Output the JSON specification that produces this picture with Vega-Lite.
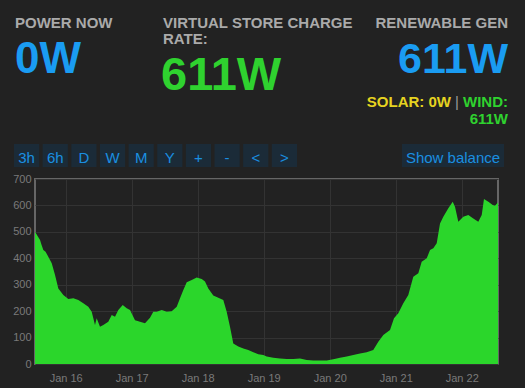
{
  "$schema": "https://vega.github.io/schema/vega-lite/v6.json",
  "autosize": {"type": "none"},
  "width": 463,
  "height": 185,
  "padding": {"left": 35, "top": 179, "right": 27, "bottom": 24},
  "background": "#222222",
  "config": {
    "font": "Liberation Sans",
    "view": {"stroke": "#666666", "strokeWidth": 2},
    "axis": {"labelColor": "#7a7a7a", "labelFontSize": 11, "labelFont": "Liberation Sans", "ticks": false, "domain": false, "gridColor": "#333333", "gridWidth": 1}
  },
  "datasets": {
    "series": [
      {"t": "2024-01-15T12:50:00Z", "v": 500},
      {"t": "2024-01-15T14:40:00Z", "v": 469},
      {"t": "2024-01-15T15:10:00Z", "v": 452},
      {"t": "2024-01-15T15:52:00Z", "v": 431},
      {"t": "2024-01-15T16:40:00Z", "v": 425},
      {"t": "2024-01-15T17:40:00Z", "v": 406},
      {"t": "2024-01-15T18:55:00Z", "v": 381},
      {"t": "2024-01-15T20:07:00Z", "v": 337},
      {"t": "2024-01-15T21:19:00Z", "v": 286},
      {"t": "2024-01-15T23:08:00Z", "v": 261},
      {"t": "2024-01-16T00:57:00Z", "v": 246},
      {"t": "2024-01-16T02:46:00Z", "v": 249},
      {"t": "2024-01-16T04:35:00Z", "v": 242},
      {"t": "2024-01-16T06:24:00Z", "v": 230},
      {"t": "2024-01-16T08:13:00Z", "v": 217},
      {"t": "2024-01-16T09:27:00Z", "v": 198},
      {"t": "2024-01-16T10:39:00Z", "v": 148},
      {"t": "2024-01-16T11:16:00Z", "v": 173},
      {"t": "2024-01-16T12:28:00Z", "v": 141},
      {"t": "2024-01-16T13:40:00Z", "v": 148},
      {"t": "2024-01-16T15:29:00Z", "v": 160},
      {"t": "2024-01-16T16:44:00Z", "v": 185},
      {"t": "2024-01-16T17:56:00Z", "v": 179},
      {"t": "2024-01-16T19:08:00Z", "v": 204},
      {"t": "2024-01-16T20:44:00Z", "v": 223},
      {"t": "2024-01-16T22:11:00Z", "v": 211},
      {"t": "2024-01-16T23:23:00Z", "v": 204},
      {"t": "2024-01-17T01:12:00Z", "v": 166},
      {"t": "2024-01-17T03:01:00Z", "v": 160},
      {"t": "2024-01-17T04:50:00Z", "v": 154},
      {"t": "2024-01-17T06:39:00Z", "v": 175},
      {"t": "2024-01-17T07:51:00Z", "v": 198},
      {"t": "2024-01-17T09:05:00Z", "v": 198},
      {"t": "2024-01-17T10:55:00Z", "v": 204},
      {"t": "2024-01-17T12:43:00Z", "v": 198},
      {"t": "2024-01-17T14:32:00Z", "v": 200},
      {"t": "2024-01-17T16:22:00Z", "v": 217},
      {"t": "2024-01-17T17:34:00Z", "v": 249},
      {"t": "2024-01-17T18:46:00Z", "v": 280},
      {"t": "2024-01-17T20:00:00Z", "v": 309},
      {"t": "2024-01-17T21:49:00Z", "v": 318},
      {"t": "2024-01-17T23:38:00Z", "v": 327},
      {"t": "2024-01-18T01:27:00Z", "v": 322},
      {"t": "2024-01-18T02:39:00Z", "v": 312},
      {"t": "2024-01-18T03:51:00Z", "v": 286},
      {"t": "2024-01-18T05:40:00Z", "v": 259},
      {"t": "2024-01-18T07:29:00Z", "v": 251},
      {"t": "2024-01-18T09:18:00Z", "v": 242},
      {"t": "2024-01-18T10:32:00Z", "v": 198},
      {"t": "2024-01-18T11:44:00Z", "v": 141},
      {"t": "2024-01-18T12:56:00Z", "v": 78},
      {"t": "2024-01-18T14:46:00Z", "v": 66},
      {"t": "2024-01-18T16:35:00Z", "v": 59},
      {"t": "2024-01-18T18:23:00Z", "v": 53},
      {"t": "2024-01-18T20:13:00Z", "v": 44},
      {"t": "2024-01-18T22:02:00Z", "v": 37},
      {"t": "2024-01-18T23:51:00Z", "v": 34},
      {"t": "2024-01-19T01:05:00Z", "v": 28},
      {"t": "2024-01-19T03:29:00Z", "v": 24},
      {"t": "2024-01-19T05:55:00Z", "v": 21},
      {"t": "2024-01-19T08:22:00Z", "v": 19},
      {"t": "2024-01-19T10:46:00Z", "v": 19},
      {"t": "2024-01-19T13:11:00Z", "v": 21},
      {"t": "2024-01-19T15:38:00Z", "v": 15},
      {"t": "2024-01-19T18:02:00Z", "v": 13},
      {"t": "2024-01-19T20:28:00Z", "v": 13},
      {"t": "2024-01-19T22:54:00Z", "v": 13},
      {"t": "2024-01-20T01:18:00Z", "v": 18},
      {"t": "2024-01-20T03:44:00Z", "v": 24},
      {"t": "2024-01-20T06:10:00Z", "v": 28},
      {"t": "2024-01-20T08:34:00Z", "v": 34},
      {"t": "2024-01-20T11:01:00Z", "v": 40},
      {"t": "2024-01-20T13:26:00Z", "v": 44},
      {"t": "2024-01-20T15:50:00Z", "v": 53},
      {"t": "2024-01-20T17:40:00Z", "v": 84},
      {"t": "2024-01-20T19:29:00Z", "v": 110},
      {"t": "2024-01-20T21:55:00Z", "v": 129},
      {"t": "2024-01-20T23:22:00Z", "v": 173},
      {"t": "2024-01-21T00:56:00Z", "v": 192},
      {"t": "2024-01-21T02:45:00Z", "v": 230},
      {"t": "2024-01-21T04:34:00Z", "v": 261},
      {"t": "2024-01-21T06:23:00Z", "v": 330},
      {"t": "2024-01-21T08:13:00Z", "v": 343},
      {"t": "2024-01-21T09:26:00Z", "v": 387},
      {"t": "2024-01-21T11:16:00Z", "v": 400},
      {"t": "2024-01-21T12:28:00Z", "v": 431},
      {"t": "2024-01-21T13:40:00Z", "v": 438},
      {"t": "2024-01-21T14:54:00Z", "v": 457},
      {"t": "2024-01-21T16:06:00Z", "v": 532},
      {"t": "2024-01-21T17:18:00Z", "v": 557},
      {"t": "2024-01-21T19:07:00Z", "v": 589},
      {"t": "2024-01-21T20:43:00Z", "v": 614},
      {"t": "2024-01-21T21:33:00Z", "v": 595},
      {"t": "2024-01-21T22:45:00Z", "v": 538},
      {"t": "2024-01-22T00:34:00Z", "v": 557},
      {"t": "2024-01-22T02:23:00Z", "v": 564},
      {"t": "2024-01-22T04:12:00Z", "v": 551},
      {"t": "2024-01-22T06:01:00Z", "v": 538},
      {"t": "2024-01-22T07:16:00Z", "v": 564},
      {"t": "2024-01-22T08:05:00Z", "v": 624},
      {"t": "2024-01-22T09:40:00Z", "v": 614},
      {"t": "2024-01-22T11:16:00Z", "v": 602},
      {"t": "2024-01-22T12:05:00Z", "v": 599},
      {"t": "2024-01-22T13:11:00Z", "v": 611}
    ],
    "header": [
      {"text": "POWER NOW", "grp": "labelL", "col": "left", "row": "r1"},
      {"text": "VIRTUAL STORE CHARGE", "grp": "labelL", "col": "mid", "row": "r1"},
      {"text": "RATE:", "grp": "labelL", "col": "mid", "row": "r2"},
      {"text": "RENEWABLE GEN", "grp": "labelR", "col": "right", "row": "r1"},
      {"text": "0W", "grp": "now", "col": "left", "row": "big"},
      {"text": "611W", "grp": "store", "col": "mid", "row": "bigmid"},
      {"text": "611W", "grp": "gen", "col": "right", "row": "big"},
      {"text": "SOLAR: 0W", "grp": "solar", "col": "solar", "row": "s1"},
      {"text": "|", "grp": "sep", "col": "sep", "row": "s1"},
      {"text": "WIND:", "grp": "wind", "col": "right", "row": "s1"},
      {"text": "611W", "grp": "wind", "col": "right", "row": "s2"}
    ],
    "buttons": [
      {"b": "3h", "set": "nav", "line": "btn"},
      {"b": "6h", "set": "nav", "line": "btn"},
      {"b": "D", "set": "nav", "line": "btn"},
      {"b": "W", "set": "nav", "line": "btn"},
      {"b": "M", "set": "nav", "line": "btn"},
      {"b": "Y", "set": "nav", "line": "btn"},
      {"b": "+", "set": "nav", "line": "btn"},
      {"b": "-", "set": "nav", "line": "btn"},
      {"b": "<", "set": "nav", "line": "btn"},
      {"b": ">", "set": "nav", "line": "btn"},
      {"b": "Show balance", "set": "bal", "line": "btn"}
    ]
  },
  "layer": [
    {
      "data": {"name": "series"},
      "mark": {"type": "area", "color": "#2bd62b", "interpolate": "linear"},
      "encoding": {
        "x": {"field": "t", "type": "temporal", "scale": {"type": "utc", "nice": false},
          "axis": {"title": null, "format": "%b %d", "tickCount": {"interval": "day", "step": 1}, "labelPadding": 8, "grid": true}},
        "y": {"field": "v", "type": "quantitative", "scale": {"domain": [0, 700], "nice": false},
          "axis": {"title": null, "values": [0, 100, 200, 300, 400, 500, 600, 700], "labelPadding": 4, "grid": true}}
      }
    },
    {
      "data": {"name": "header"},
      "transform": [{"filter": "datum.grp == 'labelL'"}],
      "mark": {"type": "text", "align": "left", "baseline": "alphabetic", "fontWeight": "bold", "fontSize": 15, "color": "#aaaaaa"},
      "encoding": {
        "x": {"field": "col", "type": "nominal", "scale": {"type": "point", "domain": ["left", "mid"], "range": [-20, 128], "padding": 0}, "axis": null},
        "y": {"field": "row", "type": "nominal", "scale": {"type": "point", "domain": ["r1", "r2"], "range": [-151, -135], "padding": 0}, "axis": null},
        "text": {"field": "text"}
      }
    },
    {
      "data": {"name": "header"},
      "transform": [{"filter": "datum.grp == 'labelR'"}],
      "mark": {"type": "text", "align": "right", "baseline": "alphabetic", "fontWeight": "bold", "fontSize": 15, "color": "#aaaaaa"},
      "encoding": {
        "x": {"field": "col", "type": "nominal", "scale": {"type": "point", "domain": ["right"], "range": [473, 473], "padding": 0}, "axis": null},
        "y": {"field": "row", "type": "nominal", "scale": {"type": "point", "domain": ["r1"], "range": [-151, -151], "padding": 0}, "axis": null},
        "text": {"field": "text"}
      }
    },
    {
      "data": {"name": "header"},
      "transform": [{"filter": "datum.grp == 'now'"}],
      "mark": {"type": "text", "align": "left", "baseline": "alphabetic", "fontWeight": "bold", "fontSize": 44, "color": "#1a9cf2"},
      "encoding": {
        "x": {"field": "col", "type": "nominal", "scale": {"type": "point", "domain": ["left"], "range": [-20, -20], "padding": 0}, "axis": null},
        "y": {"field": "row", "type": "nominal", "scale": {"type": "point", "domain": ["big"], "range": [-106, -106], "padding": 0}, "axis": null},
        "text": {"field": "text"}
      }
    },
    {
      "data": {"name": "header"},
      "transform": [{"filter": "datum.grp == 'store'"}],
      "mark": {"type": "text", "align": "left", "baseline": "alphabetic", "fontWeight": "bold", "fontSize": 47, "color": "#2fd22f"},
      "encoding": {
        "x": {"field": "col", "type": "nominal", "scale": {"type": "point", "domain": ["mid"], "range": [126, 126], "padding": 0}, "axis": null},
        "y": {"field": "row", "type": "nominal", "scale": {"type": "point", "domain": ["bigmid"], "range": [-89.5, -89.5], "padding": 0}, "axis": null},
        "text": {"field": "text"}
      }
    },
    {
      "data": {"name": "header"},
      "transform": [{"filter": "datum.grp == 'gen'"}],
      "mark": {"type": "text", "align": "right", "baseline": "alphabetic", "fontWeight": "bold", "fontSize": 43, "color": "#1a9cf2"},
      "encoding": {
        "x": {"field": "col", "type": "nominal", "scale": {"type": "point", "domain": ["right"], "range": [473, 473], "padding": 0}, "axis": null},
        "y": {"field": "row", "type": "nominal", "scale": {"type": "point", "domain": ["big"], "range": [-106, -106], "padding": 0}, "axis": null},
        "text": {"field": "text"}
      }
    },
    {
      "data": {"name": "header"},
      "transform": [{"filter": "datum.grp == 'solar'"}],
      "mark": {"type": "text", "align": "right", "baseline": "alphabetic", "fontWeight": "bold", "fontSize": 15, "color": "#e6d320"},
      "encoding": {
        "x": {"field": "col", "type": "nominal", "scale": {"type": "point", "domain": ["solar"], "range": [416, 416], "padding": 0}, "axis": null},
        "y": {"field": "row", "type": "nominal", "scale": {"type": "point", "domain": ["s1"], "range": [-72, -72], "padding": 0}, "axis": null},
        "text": {"field": "text"}
      }
    },
    {
      "data": {"name": "header"},
      "transform": [{"filter": "datum.grp == 'sep'"}],
      "mark": {"type": "text", "align": "center", "baseline": "alphabetic", "fontWeight": "normal", "fontSize": 15, "color": "#999999"},
      "encoding": {
        "x": {"field": "col", "type": "nominal", "scale": {"type": "point", "domain": ["sep"], "range": [422, 422], "padding": 0}, "axis": null},
        "y": {"field": "row", "type": "nominal", "scale": {"type": "point", "domain": ["s1"], "range": [-72, -72], "padding": 0}, "axis": null},
        "text": {"field": "text"}
      }
    },
    {
      "data": {"name": "header"},
      "transform": [{"filter": "datum.grp == 'wind'"}],
      "mark": {"type": "text", "align": "right", "baseline": "alphabetic", "fontWeight": "bold", "fontSize": 15, "color": "#2fd22f"},
      "encoding": {
        "x": {"field": "col", "type": "nominal", "scale": {"type": "point", "domain": ["right"], "range": [473, 473], "padding": 0}, "axis": null},
        "y": {"field": "row", "type": "nominal", "scale": {"type": "point", "domain": ["s1", "s2"], "range": [-72, -55.5], "padding": 0}, "axis": null},
        "text": {"field": "text"}
      }
    },
    {
      "data": {"name": "buttons"},
      "transform": [{"filter": "datum.set == 'nav'"}],
      "mark": {"type": "rect", "color": "#1b2b38"},
      "encoding": {
        "x": {"field": "b", "type": "nominal", "sort": null, "scale": {"type": "band", "domain": ["3h", "6h", "D", "W", "M", "Y", "+", "-", "<", ">"], "range": [-21, 262], "paddingInner": 0.12, "paddingOuter": 0}, "axis": null},
        "y": {"field": "line", "type": "nominal", "scale": {"type": "band", "domain": ["btn"], "range": [-35, -12], "padding": 0}, "axis": null}
      }
    },
    {
      "data": {"name": "buttons"},
      "transform": [{"filter": "datum.set == 'nav'"}],
      "mark": {"type": "text", "align": "center", "baseline": "middle", "fontSize": 15, "color": "#1a8fe0"},
      "encoding": {
        "x": {"field": "b", "type": "nominal", "sort": null, "scale": {"type": "band", "domain": ["3h", "6h", "D", "W", "M", "Y", "+", "-", "<", ">"], "range": [-21, 262], "paddingInner": 0.12, "paddingOuter": 0}, "axis": null},
        "y": {"field": "line", "type": "nominal", "scale": {"type": "band", "domain": ["btn"], "range": [-33, -10], "padding": 0}, "axis": null},
        "text": {"field": "b"}
      }
    },
    {
      "data": {"name": "buttons"},
      "transform": [{"filter": "datum.set == 'bal'"}],
      "mark": {"type": "rect", "color": "#1b2b38"},
      "encoding": {
        "x": {"field": "b", "type": "nominal", "scale": {"type": "band", "domain": ["Show balance"], "range": [367, 469], "padding": 0}, "axis": null},
        "y": {"field": "line", "type": "nominal", "scale": {"type": "band", "domain": ["btn"], "range": [-35, -12], "padding": 0}, "axis": null}
      }
    },
    {
      "data": {"name": "buttons"},
      "transform": [{"filter": "datum.set == 'bal'"}],
      "mark": {"type": "text", "align": "center", "baseline": "middle", "fontSize": 15, "color": "#1a8fe0"},
      "encoding": {
        "x": {"field": "b", "type": "nominal", "scale": {"type": "band", "domain": ["Show balance"], "range": [367, 469], "padding": 0}, "axis": null},
        "y": {"field": "line", "type": "nominal", "scale": {"type": "band", "domain": ["btn"], "range": [-33, -10], "padding": 0}, "axis": null},
        "text": {"field": "b"}
      }
    }
  ],
  "resolve": {"scale": {"x": "independent", "y": "independent"}}
}
